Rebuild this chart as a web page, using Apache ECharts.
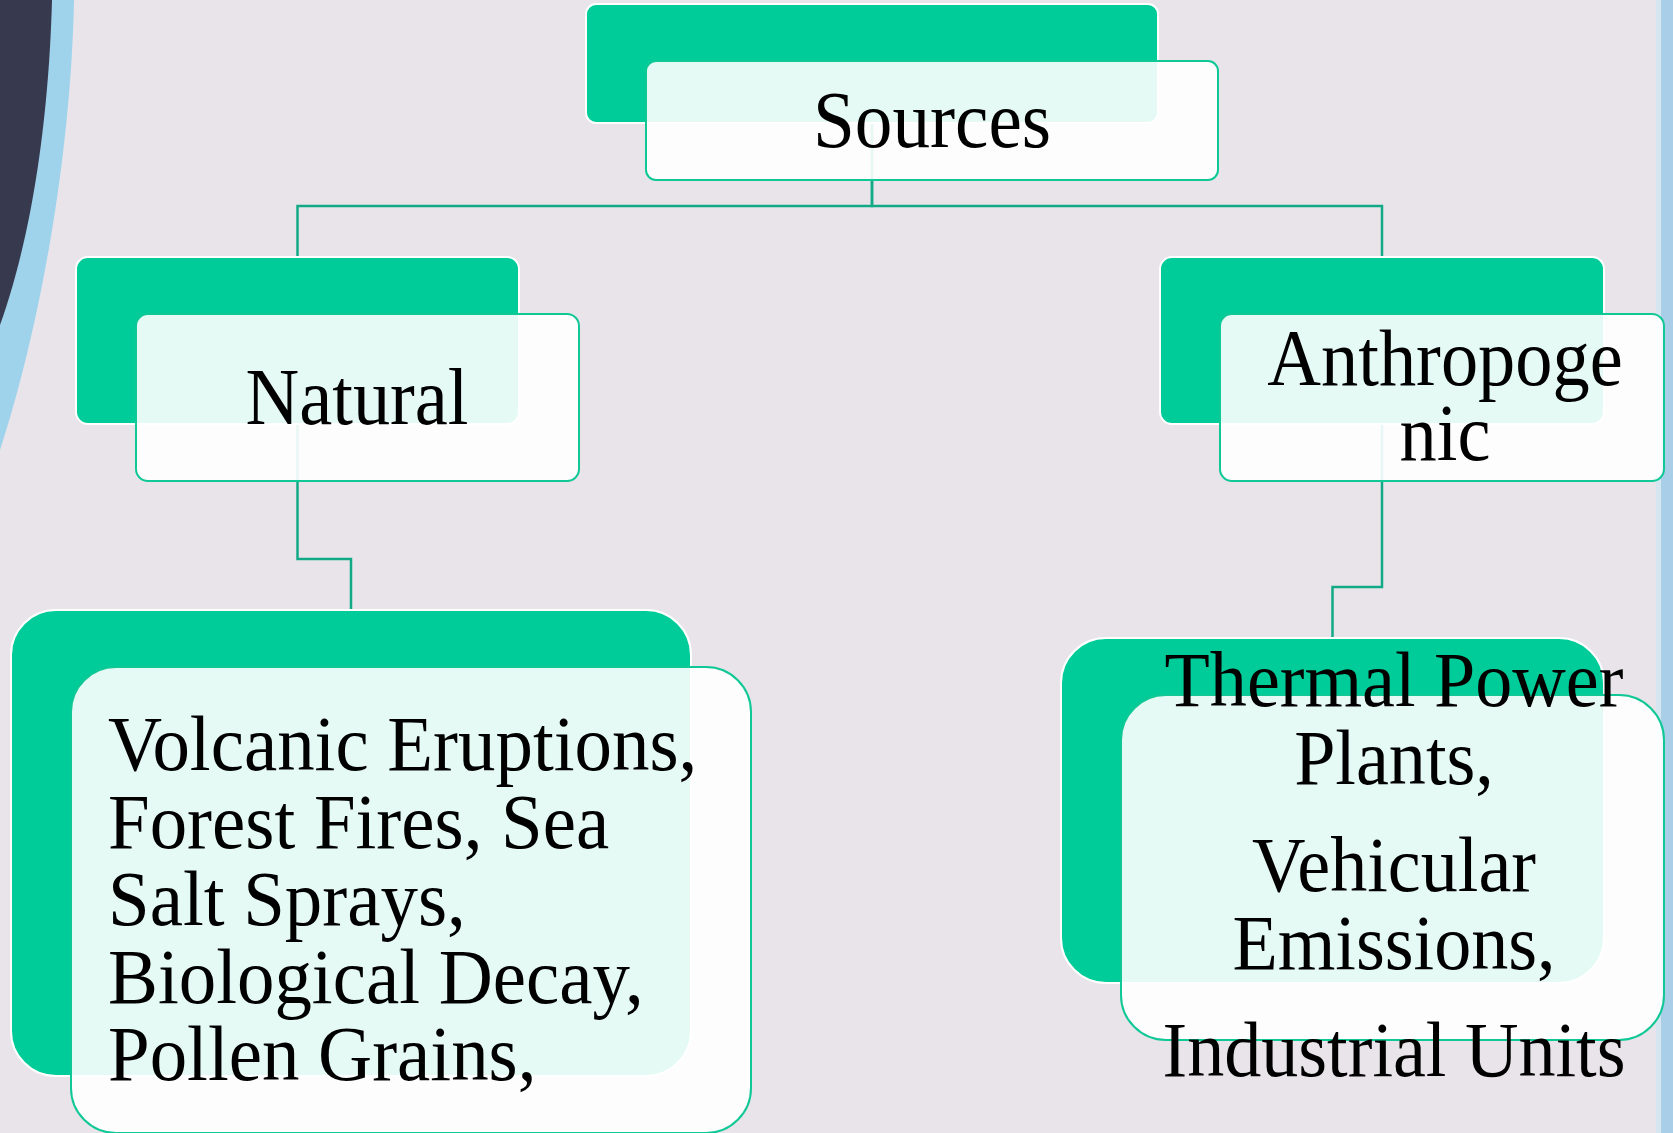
<!DOCTYPE html>
<html>
<head>
<meta charset="utf-8">
<title>Sources</title>
<script src="https://cdn.jsdelivr.net/npm/echarts@6/dist/echarts.min.js"></script>
<style>
  html, body { margin: 0; padding: 0; background: #e8e4ea; }
  #chart { width: 1673px; height: 1133px; }
</style>
</head>
<body>
<div id="chart"></div>
<script>
// text of each box, line by line as it wraps in the picture
const rootLines = ['Sources'];
const naturalLines = ['Natural'];
const anthroLines = ['Anthropoge', 'nic'];
const naturalExamples = ['Volcanic Eruptions,', 'Forest Fires, Sea', 'Salt Sprays,', 'Biological Decay,', 'Pollen Grains,'];
const anthroExamples = ['Thermal Power', 'Plants,', 'Vehicular', 'Emissions,', 'Industrial Units'];
// parent of each box (tree links)
const parents = [-1, 0, 0, 1, 2];

// layout (pixel units of the hidden axes): back box, radius, text anchor
const layout = [
  { x: 586, y: 4, w: 572, h: 119, r: 10, tx: 932, ty: [126], size: 80, sx: 0.94, align: 'center', lines: rootLines },
  { x: 76, y: 257, w: 443, h: 167, r: 12, tx: 357, ty: [403], size: 80, sx: 0.93, align: 'center', lines: naturalLines },
  { x: 1160, y: 257, w: 444, h: 167, r: 12, tx: 1445, ty: [364, 439], size: 80, sx: 0.93, align: 'center', lines: anthroLines },
  { x: 11, y: 610, w: 680, h: 466, r: 45, tx: 108, ty: [750, 828, 905, 983, 1060], size: 78, sx: 0.96, align: 'left', lines: naturalExamples },
  { x: 1061, y: 638, w: 543, h: 345, r: 45, tx: 1394, ty: [686, 764, 871, 949, 1056], size: 78, sx: 0.95, align: 'center', lines: anthroExamples }
];
const frontDx = 60;
const frontDy = 57;

// points along a cubic curve, for the decorative swoosh on the left
function curve(p0, p1, p2, p3, n) {
  const pts = [];
  for (let k = 0; k <= n; k++) {
    const t = k / n, u = 1 - t;
    pts.push([
      u * u * u * p0[0] + 3 * u * u * t * p1[0] + 3 * u * t * t * p2[0] + t * t * t * p3[0],
      u * u * u * p0[1] + 3 * u * u * t * p1[1] + 3 * u * t * t * p2[1] + t * t * t * p3[1]
    ]);
  }
  return pts;
}
const darkEdge = curve([52, 0], [49, 110], [34, 230], [0, 325], 30);
const blueEdge = curve([74, 0], [71, 150], [42, 320], [0, 450], 30);

const chart = echarts.init(document.getElementById('chart'));

function renderBox(params, api) {
  const i = api.value(0);
  const b = layout[i];
  const children = [];

  // elbow connector to the parent box
  const p = parents[i];
  if (p >= 0) {
    const pb = layout[p];
    const px = pb.x + pb.w / 2;
    const cx = b.x + b.w / 2;
    const elbow = b.y - 51;
    children.push({
      type: 'polyline',
      z2: 0,
      shape: { points: [api.coord([px, pb.y + 10]), api.coord([px, elbow]), api.coord([cx, elbow]), api.coord([cx, b.y])] },
      style: { stroke: '#12aa86', lineWidth: 2.5, fill: null }
    });
  }

  const a0 = api.coord([b.x, b.y]);
  const a1 = api.coord([b.x + b.w, b.y + b.h]);
  children.push({
    type: 'rect',
    z2: 1,
    shape: { x: a0[0], y: a0[1], width: a1[0] - a0[0], height: a1[1] - a0[1], r: b.r },
    style: { fill: '#00cc99', stroke: '#ffffff', lineWidth: 2 }
  });
  const f0 = api.coord([b.x + frontDx, b.y + frontDy]);
  const f1 = api.coord([b.x + b.w + frontDx, b.y + b.h + frontDy]);
  children.push({
    type: 'rect',
    z2: 2,
    shape: { x: f0[0], y: f0[1], width: f1[0] - f0[0], height: f1[1] - f0[1], r: b.r },
    style: { fill: 'rgba(255,255,255,0.9)', stroke: '#10c896', lineWidth: 2 }
  });

  b.lines.forEach(function (line, k) {
    const t = api.coord([b.tx, b.ty[k]]);
    children.push({
      type: 'text',
      z2: 3,
      x: t[0],
      y: t[1],
      scaleX: b.sx,
      style: {
        text: line,
        fill: '#000000',
        fontSize: b.size,
        fontFamily: '"Liberation Serif", "Times New Roman", serif',
        align: b.align,
        verticalAlign: 'middle'
      }
    });
  });

  return { type: 'group', children: children };
}

const option = {
  backgroundColor: '#e8e4ea',
  animation: false,
  grid: { left: 0, right: 0, top: 0, bottom: 0 },
  xAxis: { type: 'value', min: 0, max: 1673, show: false },
  yAxis: { type: 'value', min: 0, max: 1133, inverse: true, show: false },
  graphic: [
    // blue band and dark swoosh on the left edge
    {
      type: 'polygon', z: 0,
      shape: { points: [[0, 0]].concat(blueEdge, [[0, 450]]) },
      style: { fill: '#9fd3ec' }
    },
    {
      type: 'polygon', z: 0,
      shape: { points: [[0, 0]].concat(darkEdge, [[0, 325]]) },
      style: { fill: '#373a4f' }
    },
    // blue band on the right edge
    { type: 'rect', z: 0, shape: { x: 1656, y: 0, width: 5, height: 1133 }, style: { fill: '#d5e6f1' } },
    { type: 'rect', z: 0, shape: { x: 1661, y: 0, width: 12, height: 1133 }, style: { fill: '#a8cee8' } }
  ],
  series: [
    {
      type: 'custom',
      silent: true,
      z: 2,
      renderItem: renderBox,
      data: layout.map(function (b, i) { return [i, 0]; })
    }
  ]
};

chart.setOption(option);
</script>
</body>
</html>
